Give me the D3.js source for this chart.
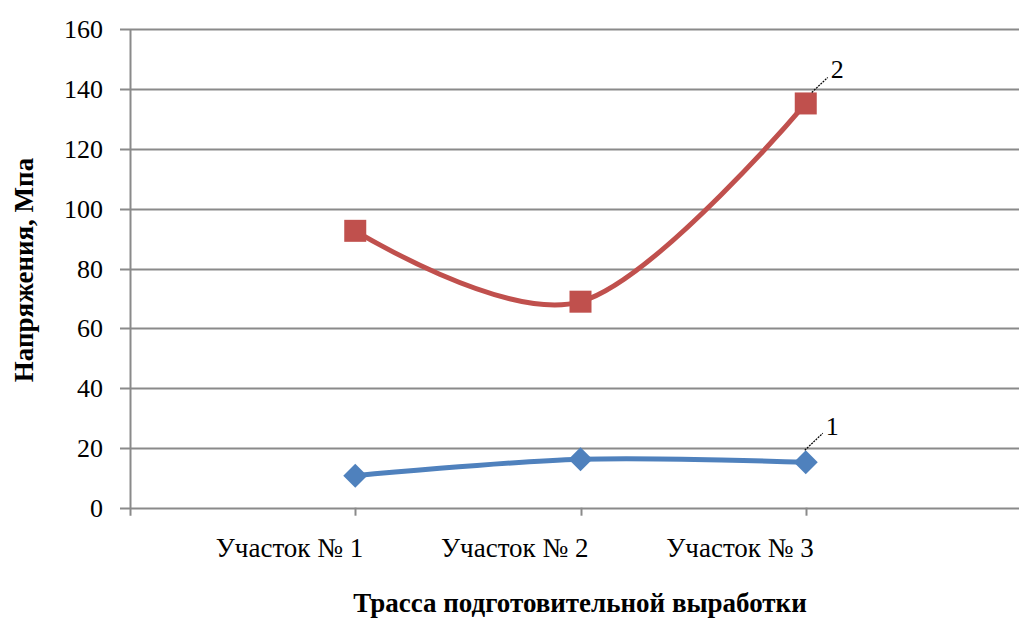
<!DOCTYPE html>
<html><head><meta charset="utf-8">
<script src="https://cdn.jsdelivr.net/npm/d3@7"></script>
<style>body{margin:0;background:#fff}svg{display:block}text{font-family:"Liberation Serif","Times New Roman",serif}</style>
</head><body><svg id="c" width="1019" height="618"></svg>
<script>
const categories = ["Участок № 1", "Участок № 2", "Участок № 3"];
const series1 = [10.7, 16.2, 15.2];
const series2 = [92.6, 68.9, 135.2];
const seriesLabels = ["1", "2"];
const yTicks = [0, 20, 40, 60, 80, 100, 120, 140, 160];
const xTitle = "Трасса подготовительной выработки";
const yTitle = "Напряжения, Мпа";

const svg = d3.select("#c");
const x = d3.scaleLinear().domain([-1, 3]).range([130, 1031]);
const y = d3.scaleLinear().domain([0, 160]).range([507.7, 29.3]);
const grid = "#8a8a8a";

// gridlines
svg.append("g").selectAll("line").data(yTicks).join("line")
  .attr("x1", 120).attr("x2", 1019)
  .attr("y1", d => Math.round(y(d)) + 0.5).attr("y2", d => Math.round(y(d)) + 0.5)
  .attr("stroke", grid).attr("stroke-width", 2);
// y axis line
svg.append("line").attr("x1", 130.5).attr("x2", 130.5).attr("y1", y(160)).attr("y2", y(0) + 8)
  .attr("stroke", grid).attr("stroke-width", 2);
// x ticks
svg.append("g").selectAll("line").data(categories).join("line")
  .attr("x1", (d, i) => Math.round(x(i)) + 0.5).attr("x2", (d, i) => Math.round(x(i)) + 0.5)
  .attr("y1", y(0)).attr("y2", y(0) + 8)
  .attr("stroke", grid).attr("stroke-width", 2);
// y tick labels
svg.append("g").selectAll("text").data(yTicks).join("text")
  .attr("x", 103).attr("y", d => y(d)).attr("dy", "0.35em")
  .attr("text-anchor", "end").attr("font-size", 26).attr("fill", "#000")
  .text(d => d);
// x tick labels
svg.append("g").selectAll("text").data(categories).join("text")
  .attr("x", (d, i) => x(i) + 8).attr("y", 557)
  .attr("text-anchor", "end").attr("font-size", 27).attr("fill", "#000")
  .text(d => d);
// titles
svg.append("text").attr("x", 580).attr("y", 612).attr("text-anchor", "middle")
  .attr("font-size", 27).attr("font-weight", "bold").text(xTitle);
svg.append("text").attr("transform", "translate(33,270) rotate(-90)").attr("text-anchor", "middle")
  .attr("font-size", 27).attr("font-weight", "bold").text(yTitle);

const line = d3.line().x((d, i) => x(i)).y(d => y(d)).curve(d3.curveCardinal.tension(0));
svg.append("path").datum(series2).attr("d", line).attr("fill", "none")
  .attr("stroke", "#C0504D").attr("stroke-width", 5).attr("stroke-linecap", "round");
svg.append("path").datum(series1).attr("d", line).attr("fill", "none")
  .attr("stroke", "#4F81BD").attr("stroke-width", 5).attr("stroke-linecap", "round");

svg.append("g").selectAll("rect").data(series2).join("rect")
  .attr("x", (d, i) => x(i) - 11).attr("y", d => y(d) - 11)
  .attr("width", 22).attr("height", 22).attr("fill", "#C0504D");
svg.append("g").selectAll("path").data(series1).join("path")
  .attr("d", (d, i) => { const cx = x(i), cy = y(d), r = 12; return `M${cx},${cy - r}L${cx + r},${cy}L${cx},${cy + r}L${cx - r},${cy}Z`; })
  .attr("fill", "#4F81BD");

// series labels with leader lines
const lab = [
  { v: series1[2], i: 2, t: seriesLabels[0], dx1: -1, dy1: -12, dx2: 17, dy2: -29, tx: 20, ty: -27 },
  { v: series2[2], i: 2, t: seriesLabels[1], dx1: 6, dy1: -11, dx2: 22, dy2: -26, tx: 25, ty: -25 }
];
svg.append("g").selectAll("line").data(lab).join("line")
  .attr("x1", d => x(d.i) + d.dx1).attr("y1", d => y(d.v) + d.dy1)
  .attr("x2", d => x(d.i) + d.dx2).attr("y2", d => y(d.v) + d.dy2)
  .attr("stroke", "#000").attr("stroke-width", 1.2).attr("stroke-dasharray", "2,1");
svg.append("g").selectAll("text").data(lab).join("text")
  .attr("x", d => x(d.i) + d.tx).attr("y", d => y(d.v) + d.ty)
  .attr("font-size", 26).text(d => d.t);
</script></body></html>
